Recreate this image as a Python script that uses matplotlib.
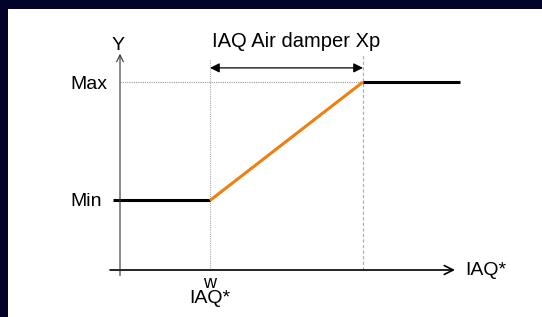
import matplotlib.pyplot as plt
from matplotlib.patches import Rectangle

plt.rcParams['font.family'] = ['Liberation Sans', 'DejaVu Sans']

# control curve (x in IAQ units, y in % damper)
curve_x = [-0.7, 9.0, 24.3, 34.0]
curve_y = [37, 37, 100, 100]
y_min, y_max = 37, 100
x_w, x_xp_end = 9.0, 24.3

# axis extents
x_axis = (-1.0, 33.5)
y_axis = (-0.5, 115)

navy = '#03032a'
fig = plt.figure(figsize=(5.42, 3.17), dpi=100, facecolor=navy)
ax = fig.add_axes([0, 0, 1, 1])
ax.set_xlim(-12, 42.2)
ax.set_ylim(-25, 143.6)
ax.axis('off')
ax.add_patch(Rectangle((8 / 542, 0), 1, 1 - 9 / 317, transform=ax.transAxes,
                       facecolor='white', edgecolor='none', zorder=0))

# axes with open arrow heads
ax.annotate('', xy=(x_axis[1], 0), xytext=(x_axis[0], 0),
            arrowprops=dict(arrowstyle='->', lw=1.2, color='black',
                            shrinkA=0, shrinkB=0, mutation_scale=16))
ax.annotate('', xy=(0, y_axis[1]), xytext=(0, -3),
            arrowprops=dict(arrowstyle='->', lw=0.8, color='#333333',
                            shrinkA=0, shrinkB=0, mutation_scale=12))

# guide lines
ax.plot([0, x_xp_end], [y_max, y_max], color='#999999', lw=0.8, ls=(0, (1, 1)))
ax.plot([x_w, x_w], [0, 112], color='#aaaaaa', lw=0.8, ls=(0, (1, 1)))
ax.plot([x_xp_end, x_xp_end], [0, 115], color='#aaaaaa', lw=0.8, ls=(0, (3, 2)))

# curve
ax.plot(curve_x[:2], curve_y[:2], color='black', lw=2.2, solid_capstyle='butt')
ax.plot(curve_x[1:3], curve_y[1:3], color='#f07f10', lw=2.2, solid_capstyle='butt')
ax.plot(curve_x[2:], curve_y[2:], color='black', lw=2.2, solid_capstyle='butt')

# Xp dimension arrow
ax.annotate('', xy=(x_xp_end, 107.5), xytext=(x_w, 107.5),
            arrowprops=dict(arrowstyle='<|-|>', lw=0.9, color='black',
                            shrinkA=0, shrinkB=0, mutation_scale=14))
ax.text((x_w + x_xp_end) / 2 + 1.0, 121.5, 'IAQ Air damper Xp', ha='center', va='center', fontsize=14.5)

# labels
fs = 14
ax.text(-0.2, 119.5, 'Y', ha='center', va='center', fontsize=fs)
ax.text(-1.3, y_max - 1.2, 'Max', ha='right', va='center', fontsize=fs)
ax.text(-1.8, y_min - 0.8, 'Min', ha='right', va='center', fontsize=fs)
ax.text(34.5, -0.3, 'IAQ*', ha='left', va='center', fontsize=fs)
ax.text(x_w, -7.2, 'w', ha='center', va='center', fontsize=13)
ax.text(x_w, -15.3, 'IAQ*', ha='center', va='center', fontsize=fs)

fig.savefig('out.png', dpi=100, facecolor=navy)
